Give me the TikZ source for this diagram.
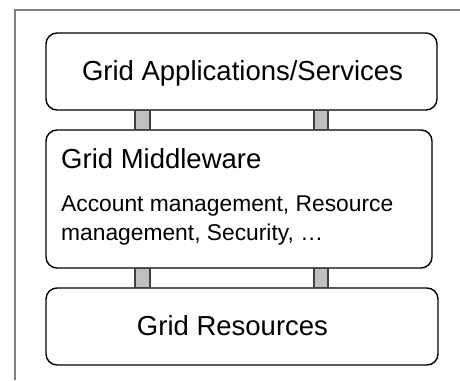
\documentclass[tikz,border=0pt]{standalone}
\usepackage{fontspec}
\setmainfont{Liberation Sans}
\begin{document}
\begin{tikzpicture}[x=1pt,y=-1pt,
  layer/.style={draw=black,line width=1.4pt,rounded corners=11pt,fill=white,inner sep=0pt},
  conn/.style={draw=black!75,fill=black!25,line width=1.2pt},
  frame/.style={draw=black!50,line width=1.5pt},
  big/.style={font=\fontsize{27.5}{32}\selectfont,inner sep=0pt},
  small/.style={font=\fontsize{22.8}{28.5}\selectfont,inner sep=0pt}]
\useasboundingbox (0,0) rectangle (460,380);
\coordinate (fo) at (15,380);
\coordinate (fc) at (15,10);
\coordinate (fe) at (462,10);
\draw[frame] (fo) -- (fc) -- (fe);
\coordinate (cL1) at (135,0);
\coordinate (cL2) at (150,0);
\coordinate (cR1) at (314,0);
\coordinate (cR2) at (328,0);
\node[layer,minimum width=391pt,minimum height=77pt] (apps) at (241.5,71.5) {};
\node[layer,minimum width=386pt,minimum height=138pt] (mid) at (239,199) {};
\node[layer,minimum width=392pt,minimum height=77pt] (res) at (242,326.5) {};
\draw[conn] (apps.south -| cL1) rectangle (mid.north -| cL2);
\draw[conn] (apps.south -| cR1) rectangle (mid.north -| cR2);
\draw[conn] (mid.south -| cL1) rectangle (res.north -| cL2);
\draw[conn] (mid.south -| cR1) rectangle (res.north -| cR2);
\node[big,anchor=base] (t1) at (242.5,80.7) {Grid Applications/Services};
\node[big,anchor=base west] (t2) at (61,168.3) {Grid Middleware};
\node[small,anchor=base west] (t3) at (61,211.7) {Account management, Resource};
\node[small,anchor=base west] (t4) at (61,240) {management, Security, …};
\node[big,anchor=base] (t5) at (232.5,335) {Grid Resources};
\end{tikzpicture}
\end{document}
